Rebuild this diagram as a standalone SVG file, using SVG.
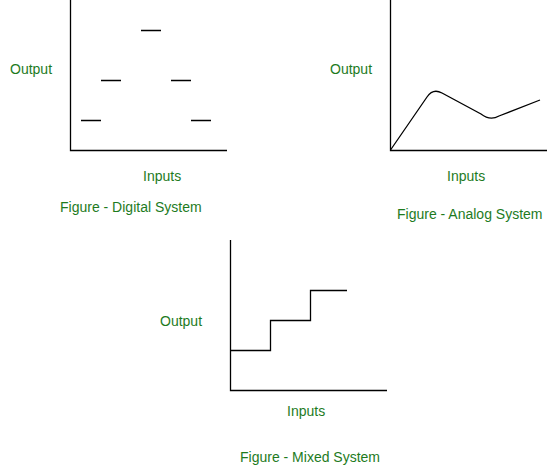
<svg xmlns="http://www.w3.org/2000/svg" width="552" height="467" viewBox="0 0 552 467">
<style>
.lbl{font-family:"Liberation Sans",Arial,sans-serif;font-size:14px;fill:#1e7b1e}
.ax{stroke:#000;stroke-width:1.3;fill:none}
.ln{stroke:#000;stroke-width:1.3;fill:none}
</style>
<rect width="552" height="467" fill="#fff"/>
<g id="digital">
<path class="ax" d="M70.5,0 V150.5 H227"/>
<path class="ln" d="M141,30.5 H161 M101,80.5 H121 M171,80.5 H191 M81,120.5 H101 M191,120.5 H211"/>
<text class="lbl" x="10" y="74">Output</text>
<text class="lbl" x="143" y="181">Inputs</text>
<text class="lbl" x="60" y="212">Figure - Digital System</text>
</g>
<g id="analog">
<path class="ax" d="M390.5,0 V150.5 H547"/>
<path class="ln" d="M390.5,150 L427,97 Q433,88 442,93 L481,114 Q490,121 499,116 L540,100"/>
<text class="lbl" x="330" y="74">Output</text>
<text class="lbl" x="447" y="181">Inputs</text>
<text class="lbl" x="397" y="219">Figure - Analog System</text>
</g>
<g id="mixed">
<path class="ax" d="M230.5,240 V390.5 H387"/>
<path class="ln" d="M230.5,350.5 H270.5 V320.5 H310.5 V290.5 H347"/>
<text class="lbl" x="160" y="326">Output</text>
<text class="lbl" x="287" y="416">Inputs</text>
<text class="lbl" x="240" y="462">Figure - Mixed System</text>
</g>
</svg>
